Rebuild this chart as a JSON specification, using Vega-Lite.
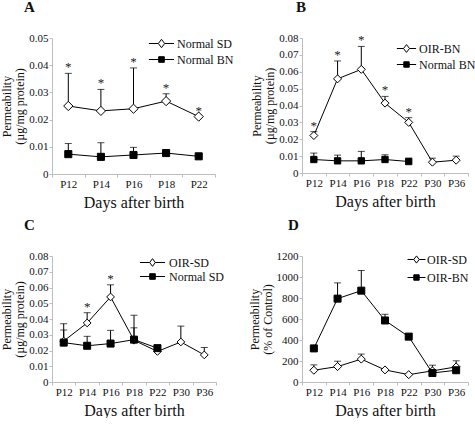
{
  "$schema": "https://vega.github.io/schema/vega-lite/v6.json",
  "padding": {"left": 0, "top": 0, "right": 0, "bottom": 0},
  "bounds": "flush",
  "columns": 2,
  "spacing": {"row": 82, "column": 86},
  "config": {
    "view": {"stroke": null},
    "font": "Liberation Serif",
    "title": {"anchor": "start", "fontSize": 15, "fontWeight": "bold", "font": "Liberation Serif", "offset": 17, "frame": "group", "color": "#111"},
    "axis": {"labelFont": "Liberation Serif", "titleFont": "Liberation Serif", "domainColor": "#bdbdbd", "tickColor": "#bdbdbd", "grid": false, "labelColor": "#111", "titleColor": "#111", "titleFontWeight": "normal", "labelFontSize": 11, "titleFontSize": 12, "tickSize": 3},
    "axisX": {"titleFontSize": 16, "labelAngle": 0, "tickBand": "extent", "labelPadding": 1, "titlePadding": 5},
    "axisY": {"labelPadding": 1, "titlePadding": 2, "titleLineHeight": 13, "labelExpr": "datum.value === 0 ? '0' : datum.label"},
    "legend": {"padding": 0}
  },
  "resolve": {
    "scale": {"x": "independent", "y": "independent", "shape": "independent", "fill": "independent"},
    "legend": {"shape": "independent", "fill": "independent"},
    "axis": {"x": "independent", "y": "independent"}
  },
  "data": {"values": [
    {"panel": "A", "series": "Normal SD", "day": "P12", "value": 0.025, "hi": 0.037, "star": "*"},
    {"panel": "A", "series": "Normal SD", "day": "P14", "value": 0.0232, "hi": 0.0311, "star": "*"},
    {"panel": "A", "series": "Normal SD", "day": "P16", "value": 0.024, "hi": 0.039, "star": "*"},
    {"panel": "A", "series": "Normal SD", "day": "P18", "value": 0.0268, "hi": 0.0295, "star": "*"},
    {"panel": "A", "series": "Normal SD", "day": "P22", "value": 0.0211, "hi": 0.0211, "star": "*"},
    {"panel": "A", "series": "Normal BN", "day": "P12", "value": 0.0073, "hi": 0.0112},
    {"panel": "A", "series": "Normal BN", "day": "P14", "value": 0.0063, "hi": 0.0115},
    {"panel": "A", "series": "Normal BN", "day": "P16", "value": 0.007, "hi": 0.0098},
    {"panel": "A", "series": "Normal BN", "day": "P18", "value": 0.0077, "hi": 0.0088},
    {"panel": "A", "series": "Normal BN", "day": "P22", "value": 0.0065, "hi": 0.0065},
    {"panel": "B", "series": "OIR-BN", "day": "P12", "value": 0.0222, "hi": 0.0245, "star": "*"},
    {"panel": "B", "series": "OIR-BN", "day": "P14", "value": 0.0558, "hi": 0.0664, "star": "*"},
    {"panel": "B", "series": "OIR-BN", "day": "P16", "value": 0.0614, "hi": 0.075, "star": "*"},
    {"panel": "B", "series": "OIR-BN", "day": "P18", "value": 0.0414, "hi": 0.0454, "star": "*"},
    {"panel": "B", "series": "OIR-BN", "day": "P22", "value": 0.03, "hi": 0.0328, "star": "*"},
    {"panel": "B", "series": "OIR-BN", "day": "P30", "value": 0.0064, "hi": 0.0088},
    {"panel": "B", "series": "OIR-BN", "day": "P36", "value": 0.0076, "hi": 0.01},
    {"panel": "B", "series": "Normal BN", "day": "P12", "value": 0.008, "hi": 0.0118},
    {"panel": "B", "series": "Normal BN", "day": "P14", "value": 0.0072, "hi": 0.0106},
    {"panel": "B", "series": "Normal BN", "day": "P16", "value": 0.0072, "hi": 0.0128},
    {"panel": "B", "series": "Normal BN", "day": "P18", "value": 0.008, "hi": 0.0108},
    {"panel": "B", "series": "Normal BN", "day": "P22", "value": 0.0068, "hi": 0.0088},
    {"panel": "C", "series": "OIR-SD", "day": "P12", "value": 0.026, "hi": 0.037},
    {"panel": "C", "series": "OIR-SD", "day": "P14", "value": 0.0375, "hi": 0.044, "star": "*"},
    {"panel": "C", "series": "OIR-SD", "day": "P16", "value": 0.054, "hi": 0.0617, "star": "*"},
    {"panel": "C", "series": "OIR-SD", "day": "P18", "value": 0.0265, "hi": 0.0424},
    {"panel": "C", "series": "OIR-SD", "day": "P22", "value": 0.0194, "hi": 0.023},
    {"panel": "C", "series": "OIR-SD", "day": "P30", "value": 0.0254, "hi": 0.0355},
    {"panel": "C", "series": "OIR-SD", "day": "P36", "value": 0.0172, "hi": 0.0219},
    {"panel": "C", "series": "Normal SD", "day": "P12", "value": 0.025, "hi": 0.033},
    {"panel": "C", "series": "Normal SD", "day": "P14", "value": 0.023, "hi": 0.029},
    {"panel": "C", "series": "Normal SD", "day": "P16", "value": 0.0244, "hi": 0.0328},
    {"panel": "C", "series": "Normal SD", "day": "P18", "value": 0.0269, "hi": 0.0344},
    {"panel": "C", "series": "Normal SD", "day": "P22", "value": 0.0215, "hi": 0.023},
    {"panel": "D", "series": "OIR-SD", "day": "P12", "value": 112, "hi": 163},
    {"panel": "D", "series": "OIR-SD", "day": "P14", "value": 147, "hi": 198},
    {"panel": "D", "series": "OIR-SD", "day": "P16", "value": 218, "hi": 266},
    {"panel": "D", "series": "OIR-SD", "day": "P18", "value": 115, "hi": 115},
    {"panel": "D", "series": "OIR-SD", "day": "P22", "value": 70, "hi": 70},
    {"panel": "D", "series": "OIR-SD", "day": "P30", "value": 106, "hi": 160},
    {"panel": "D", "series": "OIR-SD", "day": "P36", "value": 144, "hi": 202},
    {"panel": "D", "series": "OIR-BN", "day": "P12", "value": 320, "hi": 320},
    {"panel": "D", "series": "OIR-BN", "day": "P14", "value": 794, "hi": 944},
    {"panel": "D", "series": "OIR-BN", "day": "P16", "value": 870, "hi": 1062},
    {"panel": "D", "series": "OIR-BN", "day": "P18", "value": 586, "hi": 645},
    {"panel": "D", "series": "OIR-BN", "day": "P22", "value": 432, "hi": 458},
    {"panel": "D", "series": "OIR-BN", "day": "P30", "value": 86, "hi": 86},
    {"panel": "D", "series": "OIR-BN", "day": "P36", "value": 112, "hi": 112}
  ]},
  "concat": [
    {
      "width": 163, "height": 136,
      "title": {"text": "A", "dx": -28},
      "transform": [{"filter": "datum.panel === 'A'"}],
      "encoding": {
        "x": {"field": "day", "type": "ordinal", "scale": {"type": "band", "domain": ["P12", "P14", "P16", "P18", "P22"], "paddingInner": 0, "paddingOuter": 0}, "axis": {"title": "Days after birth"}},
        "y": {"field": "value", "type": "quantitative", "scale": {"domain": [0, 0.05]}, "axis": {"title": ["Permeability", "(µg/mg protein)"], "values": [0, 0.01, 0.02, 0.03, 0.04, 0.05], "format": ".2f"}}
      },
      "layer": [
        {"mark": {"type": "rule", "color": "black", "strokeWidth": 1}, "encoding": {"y2": {"field": "hi"}, "detail": {"field": "series"}}},
        {"mark": {"type": "tick", "color": "black", "size": 7, "thickness": 1}, "encoding": {"y": {"field": "hi", "type": "quantitative"}}},
        {"mark": {"type": "line", "color": "black", "strokeWidth": 1}, "encoding": {"detail": {"field": "series"}}},
        {"mark": {"type": "point", "filled": true, "stroke": "black", "strokeWidth": 1, "opacity": 1},
         "encoding": {
           "shape": {"condition": {"test": "datum.series === 'Normal SD'", "value": "diamond"}, "value": "square"},
           "fill": {"condition": {"test": "datum.series === 'Normal SD'", "value": "white"}, "value": "black"},
           "size": {"condition": {"test": "datum.series === 'Normal SD'", "value": 85}, "value": 50}}},
        {"mark": {"type": "text", "fontSize": 13, "dy": -2, "baseline": "alphabetic", "fill": "#222"}, "transform": [{"filter": "datum.star"}], "encoding": {"y": {"field": "hi", "type": "quantitative"}, "text": {"field": "star"}}},
        {"mark": {"type": "point", "filled": true, "stroke": "black", "strokeWidth": 1}, "transform": [{"filter": "false"}],
         "encoding": {
           "shape": {"field": "series", "scale": {"domain": ["Normal SD", "Normal BN"], "range": ["M-1.8,0H-0.45M0.45,0H1.8M-0.45,0L0,-0.6L0.45,0L0,0.6Z", "M-1.8,0H1.8M-0.4,-0.4H0.4V0.4H-0.4Z"]},
             "legend": {"title": null, "orient": "none", "legendX": 102, "legendY": -2, "symbolSize": 196, "symbolStrokeColor": "black", "symbolStrokeWidth": 1, "symbolOpacity": 1, "labelFontSize": 12, "labelFont": "Liberation Serif", "labelColor": "#111", "labelOffset": 8, "rowPadding": 2,
               "encode": {"symbols": {"update": {"stroke": {"value": "black"}, "strokeWidth": {"value": 1}, "opacity": {"value": 1}}}}}},
           "fill": {"field": "series", "scale": {"domain": ["Normal SD", "Normal BN"], "range": ["white", "black"]},
             "legend": {"title": null, "orient": "none", "legendX": 102, "legendY": -2, "symbolSize": 196, "symbolStrokeColor": "black", "symbolStrokeWidth": 1, "symbolOpacity": 1, "labelFontSize": 12, "labelFont": "Liberation Serif", "labelColor": "#111", "labelOffset": 8, "rowPadding": 2,
               "encode": {"symbols": {"update": {"stroke": {"value": "black"}, "strokeWidth": {"value": 1}, "opacity": {"value": 1}}}}}}}}
      ]
    },
    {
      "width": 166, "height": 135,
      "title": {"text": "B", "dx": -6},
      "transform": [{"filter": "datum.panel === 'B'"}],
      "encoding": {
        "x": {"field": "day", "type": "ordinal", "scale": {"type": "band", "domain": ["P12", "P14", "P16", "P18", "P22", "P30", "P36"], "paddingInner": 0, "paddingOuter": 0}, "axis": {"title": "Days after birth"}},
        "y": {"field": "value", "type": "quantitative", "scale": {"domain": [0, 0.08]}, "axis": {"title": ["Permeability", "(µg/mg protein)"], "values": [0, 0.01, 0.02, 0.03, 0.04, 0.05, 0.06, 0.07, 0.08], "format": ".2f"}}
      },
      "layer": [
        {"mark": {"type": "rule", "color": "black", "strokeWidth": 1}, "encoding": {"y2": {"field": "hi"}, "detail": {"field": "series"}}},
        {"mark": {"type": "tick", "color": "black", "size": 7, "thickness": 1}, "encoding": {"y": {"field": "hi", "type": "quantitative"}}},
        {"mark": {"type": "line", "color": "black", "strokeWidth": 1}, "encoding": {"detail": {"field": "series"}}},
        {"mark": {"type": "point", "filled": true, "stroke": "black", "strokeWidth": 1, "opacity": 1},
         "encoding": {
           "shape": {"condition": {"test": "datum.series === 'OIR-BN'", "value": "diamond"}, "value": "square"},
           "fill": {"condition": {"test": "datum.series === 'OIR-BN'", "value": "white"}, "value": "black"},
           "size": {"condition": {"test": "datum.series === 'OIR-BN'", "value": 64}, "value": 40}}},
        {"mark": {"type": "text", "fontSize": 13, "dy": -2, "baseline": "alphabetic", "fill": "#222"}, "transform": [{"filter": "datum.star"}], "encoding": {"y": {"field": "hi", "type": "quantitative"}, "text": {"field": "star"}}},
        {"mark": {"type": "point", "filled": true, "stroke": "black", "strokeWidth": 1}, "transform": [{"filter": "false"}],
         "encoding": {
           "shape": {"field": "series", "scale": {"domain": ["OIR-BN", "Normal BN"], "range": ["M-1.6,0H-0.5M0.5,0H1.6M-0.5,0L0,-0.65L0.5,0L0,0.65Z", "M-1.6,0H1.6M-0.45,-0.45H0.45V0.45H-0.45Z"]},
             "legend": {"title": null, "orient": "none", "legendX": 98, "legendY": 4, "symbolSize": 144, "symbolStrokeColor": "black", "symbolStrokeWidth": 1, "symbolOpacity": 1, "labelFontSize": 12, "labelFont": "Liberation Serif", "labelColor": "#111", "labelOffset": 6, "rowPadding": 3,
               "encode": {"symbols": {"update": {"stroke": {"value": "black"}, "strokeWidth": {"value": 1}, "opacity": {"value": 1}}}}}},
           "fill": {"field": "series", "scale": {"domain": ["OIR-BN", "Normal BN"], "range": ["white", "black"]},
             "legend": {"title": null, "orient": "none", "legendX": 98, "legendY": 4, "symbolSize": 144, "symbolStrokeColor": "black", "symbolStrokeWidth": 1, "symbolOpacity": 1, "labelFontSize": 12, "labelFont": "Liberation Serif", "labelColor": "#111", "labelOffset": 6, "rowPadding": 3,
               "encode": {"symbols": {"update": {"stroke": {"value": "black"}, "strokeWidth": {"value": 1}, "opacity": {"value": 1}}}}}}}}
      ]
    },
    {
      "width": 164, "height": 126,
      "title": {"text": "C", "dx": -28},
      "transform": [{"filter": "datum.panel === 'C'"}],
      "encoding": {
        "x": {"field": "day", "type": "ordinal", "scale": {"type": "band", "domain": ["P12", "P14", "P16", "P18", "P22", "P30", "P36"], "paddingInner": 0, "paddingOuter": 0}, "axis": {"title": "Days after birth"}},
        "y": {"field": "value", "type": "quantitative", "scale": {"domain": [0, 0.08]}, "axis": {"title": ["Permeability", "(µg/mg protein)"], "values": [0, 0.01, 0.02, 0.03, 0.04, 0.05, 0.06, 0.07, 0.08], "format": ".2f"}}
      },
      "layer": [
        {"mark": {"type": "rule", "color": "black", "strokeWidth": 1}, "encoding": {"y2": {"field": "hi"}, "detail": {"field": "series"}}},
        {"mark": {"type": "tick", "color": "black", "size": 7, "thickness": 1}, "encoding": {"y": {"field": "hi", "type": "quantitative"}}},
        {"mark": {"type": "line", "color": "black", "strokeWidth": 1}, "encoding": {"detail": {"field": "series"}}},
        {"mark": {"type": "point", "filled": true, "stroke": "black", "strokeWidth": 1, "opacity": 1},
         "encoding": {
           "shape": {"condition": {"test": "datum.series === 'OIR-SD'", "value": "diamond"}, "value": "square"},
           "fill": {"condition": {"test": "datum.series === 'OIR-SD'", "value": "white"}, "value": "black"},
           "size": {"condition": {"test": "datum.series === 'OIR-SD'", "value": 60}, "value": 49}}},
        {"mark": {"type": "text", "fontSize": 13, "dy": -2, "baseline": "alphabetic", "fill": "#222"}, "transform": [{"filter": "datum.star"}], "encoding": {"y": {"field": "hi", "type": "quantitative"}, "text": {"field": "star"}}},
        {"mark": {"type": "point", "filled": true, "stroke": "black", "strokeWidth": 1}, "transform": [{"filter": "false"}],
         "encoding": {
           "shape": {"field": "series", "scale": {"domain": ["OIR-SD", "Normal SD"], "range": ["M-1.8,0H-0.4M0.4,0H1.8M-0.4,0L0,-0.55L0.4,0L0,0.55Z", "M-1.8,0H1.8M-0.4,-0.4H0.4V0.4H-0.4Z"]},
             "legend": {"title": null, "orient": "none", "legendX": 93, "legendY": -1, "symbolSize": 196, "symbolStrokeColor": "black", "symbolStrokeWidth": 1, "symbolOpacity": 1, "labelFontSize": 12, "labelFont": "Liberation Serif", "labelColor": "#111", "labelOffset": 9, "rowPadding": 0,
               "encode": {"symbols": {"update": {"stroke": {"value": "black"}, "strokeWidth": {"value": 1}, "opacity": {"value": 1}}}}}},
           "fill": {"field": "series", "scale": {"domain": ["OIR-SD", "Normal SD"], "range": ["white", "black"]},
             "legend": {"title": null, "orient": "none", "legendX": 93, "legendY": -1, "symbolSize": 196, "symbolStrokeColor": "black", "symbolStrokeWidth": 1, "symbolOpacity": 1, "labelFontSize": 12, "labelFont": "Liberation Serif", "labelColor": "#111", "labelOffset": 9, "rowPadding": 0,
               "encode": {"symbols": {"update": {"stroke": {"value": "black"}, "strokeWidth": {"value": 1}, "opacity": {"value": 1}}}}}}}}
      ]
    },
    {
      "width": 166, "height": 126,
      "title": {"text": "D", "dx": -14},
      "transform": [{"filter": "datum.panel === 'D'"}],
      "encoding": {
        "x": {"field": "day", "type": "ordinal", "scale": {"type": "band", "domain": ["P12", "P14", "P16", "P18", "P22", "P30", "P36"], "paddingInner": 0, "paddingOuter": 0}, "axis": {"title": "Days after birth"}},
        "y": {"field": "value", "type": "quantitative", "scale": {"domain": [0, 1200]}, "axis": {"title": ["Permeability", "(% of Control)"], "values": [0, 200, 400, 600, 800, 1000, 1200], "format": "d"}}
      },
      "layer": [
        {"mark": {"type": "rule", "color": "black", "strokeWidth": 1}, "encoding": {"y2": {"field": "hi"}, "detail": {"field": "series"}}},
        {"mark": {"type": "tick", "color": "black", "size": 7, "thickness": 1}, "encoding": {"y": {"field": "hi", "type": "quantitative"}}},
        {"mark": {"type": "line", "color": "black", "strokeWidth": 1}, "encoding": {"detail": {"field": "series"}}},
        {"mark": {"type": "point", "filled": true, "stroke": "black", "strokeWidth": 1, "opacity": 1},
         "encoding": {
           "shape": {"condition": {"test": "datum.series === 'OIR-SD'", "value": "diamond"}, "value": "square"},
           "fill": {"condition": {"test": "datum.series === 'OIR-SD'", "value": "white"}, "value": "black"},
           "size": {"condition": {"test": "datum.series === 'OIR-SD'", "value": 64}, "value": 49}}},
        {"mark": {"type": "point", "filled": true, "stroke": "black", "strokeWidth": 1}, "transform": [{"filter": "false"}],
         "encoding": {
           "shape": {"field": "series", "scale": {"domain": ["OIR-SD", "OIR-BN"], "range": ["M-1.5,0H-0.45M0.45,0H1.5M-0.45,0L0,-0.6L0.45,0L0,0.6Z", "M-1.5,0H1.5M-0.45,-0.45H0.45V0.45H-0.45Z"]},
             "legend": {"title": null, "orient": "none", "legendX": 108, "legendY": -3, "symbolSize": 144, "symbolStrokeColor": "black", "symbolStrokeWidth": 1, "symbolOpacity": 1, "labelFontSize": 12, "labelFont": "Liberation Serif", "labelColor": "#111", "labelOffset": 4, "rowPadding": 5,
               "encode": {"symbols": {"update": {"stroke": {"value": "black"}, "strokeWidth": {"value": 1}, "opacity": {"value": 1}}}}}},
           "fill": {"field": "series", "scale": {"domain": ["OIR-SD", "OIR-BN"], "range": ["white", "black"]},
             "legend": {"title": null, "orient": "none", "legendX": 108, "legendY": -3, "symbolSize": 144, "symbolStrokeColor": "black", "symbolStrokeWidth": 1, "symbolOpacity": 1, "labelFontSize": 12, "labelFont": "Liberation Serif", "labelColor": "#111", "labelOffset": 4, "rowPadding": 5,
               "encode": {"symbols": {"update": {"stroke": {"value": "black"}, "strokeWidth": {"value": 1}, "opacity": {"value": 1}}}}}}}}
      ]
    }
  ]
}
